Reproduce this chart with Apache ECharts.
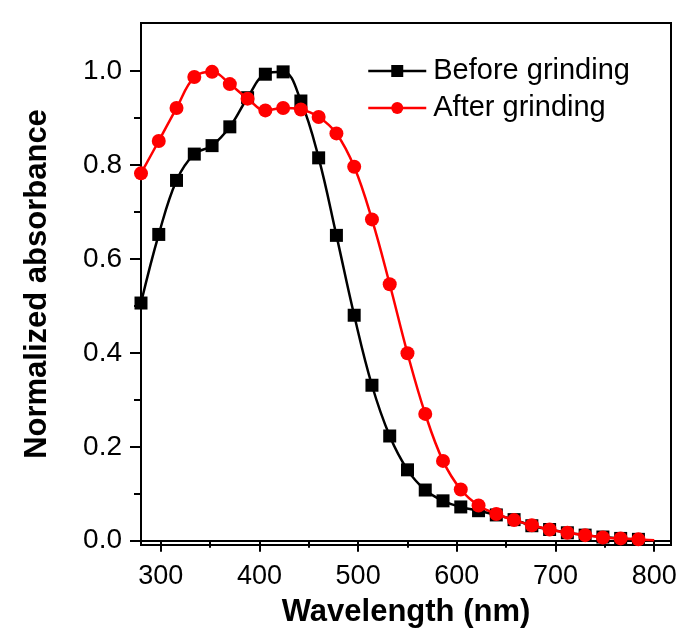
<!DOCTYPE html>
<html>
<head>
<meta charset="utf-8">
<script src="https://cdn.jsdelivr.net/npm/echarts@6/dist/echarts.min.js"></script>
<style>html,body{margin:0;padding:0;background:#fff}#c{width:681px;height:640px}</style>
</head>
<body>
<div id="c"></div>
<script>
const wavelengths = [280,298,316,334,352,370,388,406,424,442,460,478,496,514,532,550,568,586,604,622,640,658,676,694,712,730,748,766,784];
const beforeGrinding = [0.506,0.652,0.767,0.823,0.841,0.881,0.943,0.993,0.998,0.936,0.815,0.650,0.480,0.331,0.223,0.151,0.108,0.085,0.072,0.064,0.055,0.045,0.032,0.024,0.017,0.012,0.008,0.005,0.003];
const afterGrinding = [0.782,0.851,0.921,0.987,0.998,0.972,0.941,0.916,0.921,0.918,0.902,0.867,0.796,0.684,0.546,0.399,0.270,0.170,0.109,0.075,0.057,0.044,0.033,0.024,0.017,0.012,0.007,0.005,0.003];
const afterTail = [800, 0.001];
const xMajorTicks = [300,400,500,600,700,800];
const xMinorTicks = [350,450,550,650,750];
const yMajorTicks = [0,0.2,0.4,0.6,0.8,1.0];
const yMinorTicks = [0.1,0.3,0.5,0.7,0.9];
const xRange = [280, 817];
const yRange = [-0.009, 1.102];

const font = 'Liberation Sans, Arial, sans-serif';
const chart = echarts.init(document.getElementById('c'));
const blackData = wavelengths.map((w,i)=>[w, beforeGrinding[i]]);
const redData = wavelengths.map((w,i)=>[w, afterGrinding[i]]);
redData.push({value: afterTail, symbol: 'none'});

chart.setOption({
  animation: false,
  grid: {left: 141, right: 10, top: 23, bottom: 95, show: true, borderColor: '#000', borderWidth: 2, backgroundColor: 'transparent'},
  legend: {
    left: 367, top: 56, orient: 'vertical', padding: 0, itemGap: 7,
    itemWidth: 58, itemHeight: 15,
    lineStyle: {width: 2.5},
    textStyle: {fontFamily: font, fontSize: 29, color: '#000', lineHeight: 30, padding: [0,0,0,2]},
    data: ['Before grinding', 'After grinding']
  },
  xAxis: [{
    type: 'value', min: xRange[0], max: xRange[1],
    name: 'Wavelength (nm)', nameLocation: 'middle', nameGap: 52,
    nameTextStyle: {fontFamily: font, fontSize: 31, fontWeight: 'bold', color: '#000'},
    axisLine: {lineStyle: {color: '#000', width: 2}},
    axisTick: {show: true, length: 11, lineStyle: {width: 2, color: '#000'}, customValues: xMajorTicks},
    axisLabel: {fontFamily: font, fontSize: 27, color: '#000', margin: 18, customValues: xMajorTicks},
    splitLine: {show: false}
  }, {
    type: 'value', min: xRange[0], max: xRange[1], position: 'bottom',
    axisLine: {show: false},
    axisTick: {show: true, length: 7, lineStyle: {width: 2, color: '#000'}, customValues: xMinorTicks},
    axisLabel: {show: false},
    splitLine: {show: false}
  }],
  yAxis: [{
    type: 'value', min: yRange[0], max: yRange[1],
    name: 'Normalized absorbance', nameLocation: 'middle', nameGap: 88, nameRotate: 90,
    nameTextStyle: {fontFamily: font, fontSize: 31, fontWeight: 'bold', color: '#000'},
    axisLine: {show: true, lineStyle: {color: '#000', width: 2}},
    axisTick: {show: true, length: 11, lineStyle: {width: 2, color: '#000'}, customValues: yMajorTicks},
    axisLabel: {fontFamily: font, fontSize: 28, color: '#000', margin: 19, customValues: yMajorTicks, formatter: v => v.toFixed(1)},
    splitLine: {show: false}
  }, {
    type: 'value', min: yRange[0], max: yRange[1], position: 'left',
    axisLine: {show: false},
    axisTick: {show: true, length: 7, lineStyle: {width: 2, color: '#000'}, customValues: yMinorTicks},
    axisLabel: {show: false},
    splitLine: {show: false}
  }],
  series: [{
    name: 'Before grinding', type: 'line', data: blackData,
    smooth: 0.4, symbol: 'rect', symbolSize: 13,
    lineStyle: {color: '#000', width: 2.5}, itemStyle: {color: '#000'}, z: 2
  }, {
    name: 'After grinding', type: 'line', data: redData,
    smooth: 0.4, symbol: 'circle', symbolSize: 14,
    lineStyle: {color: '#ff0000', width: 2.5}, itemStyle: {color: '#ff0000'}, z: 3
  }]
});
</script>
</body>
</html>
